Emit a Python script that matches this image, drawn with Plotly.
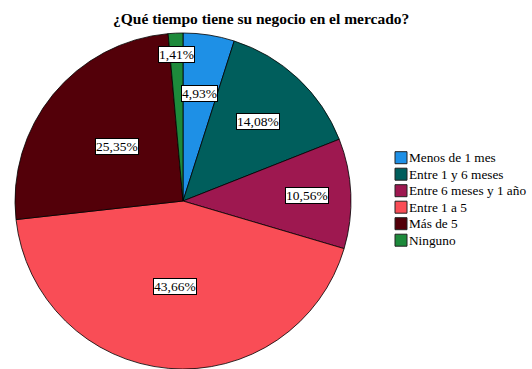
import math
import plotly.graph_objects as go

# Survey answers: time the business has been on the market (percent of respondents)
categories = ["Menos de 1 mes", "Entre 1 y 6 meses", "Entre 6 meses y 1 año",
              "Entre 1 a 5", "Más de 5", "Ninguno"]
percentages = [4.93, 14.08, 10.56, 43.66, 25.35, 1.41]
title_text = "¿Qué tiempo tiene su negocio en el mercado?"

colors = ["#1E90E6", "#005E5C", "#9E1850", "#F94D56", "#530009", "#1D8A3B"]
# radial placement of each value label, as a fraction of the radius
label_radius = [0.65, 0.65, 0.74, 0.51, 0.51, 0.87]

W, H = 532, 369
cx, cy, R = 183.0, 201.0, 168.0   # pie centre / radius in pixels
SERIF = "Liberation Serif"

fig = go.Figure(go.Pie(
    labels=categories,
    values=percentages,
    sort=False,
    direction="clockwise",
    rotation=0,
    marker=dict(colors=colors, line=dict(color="#000000", width=0.8)),
    textinfo="none",
    hoverinfo="label+percent",
    showlegend=False,
    domain=dict(x=[(cx - R) / W, (cx + R) / W], y=[(H - cy - R) / H, (H - cy + R) / H]),
))

annotations = []
total = sum(percentages)
cum = 0.0
for v, f in zip(percentages, label_radius):
    mid = (cum + v / 2) / total * 2 * math.pi
    cum += v
    px = cx + f * R * math.sin(mid)
    py = cy - f * R * math.cos(mid)
    annotations.append(dict(
        x=px / W, y=1 - py / H, xref="paper", yref="paper",
        xanchor="center", yanchor="middle",
        text=f"{v:.2f}%".replace(".", ","), showarrow=False,
        font=dict(family=SERIF, size=13.5, color="#000000"),
        bgcolor="#FFFFFF", bordercolor="#000000", borderwidth=1, borderpad=0,
    ))

# title
annotations.append(dict(
    x=261 / W, y=1 - 19 / H, xref="paper", yref="paper",
    xanchor="center", yanchor="middle",
    text=f"<b>{title_text}</b>", showarrow=False,
    font=dict(family=SERIF, size=15.5, color="#000000"),
))

# legend drawn as swatches + labels
shapes = []
lx0, lx1 = 395, 407
row0, step = 157.7, 16.5
for i, (name, c) in enumerate(zip(categories, colors)):
    yc = row0 + step * i
    shapes.append(dict(
        type="rect", xref="paper", yref="paper",
        x0=lx0 / W, x1=lx1 / W, y0=1 - (yc + 6) / H, y1=1 - (yc - 6) / H,
        fillcolor=c, line=dict(color="#222222", width=1),
    ))
    annotations.append(dict(
        x=407 / W, y=1 - yc / H, xref="paper", yref="paper",
        xanchor="left", yanchor="middle",
        text=name, showarrow=False,
        font=dict(family=SERIF, size=13.3, color="#000000"),
    ))

fig.update_layout(
    width=W, height=H,
    margin=dict(l=0, r=0, t=0, b=0),
    paper_bgcolor="#FFFFFF",
    plot_bgcolor="#FFFFFF",
    annotations=annotations,
    shapes=shapes,
)

fig.write_html("out.html")
